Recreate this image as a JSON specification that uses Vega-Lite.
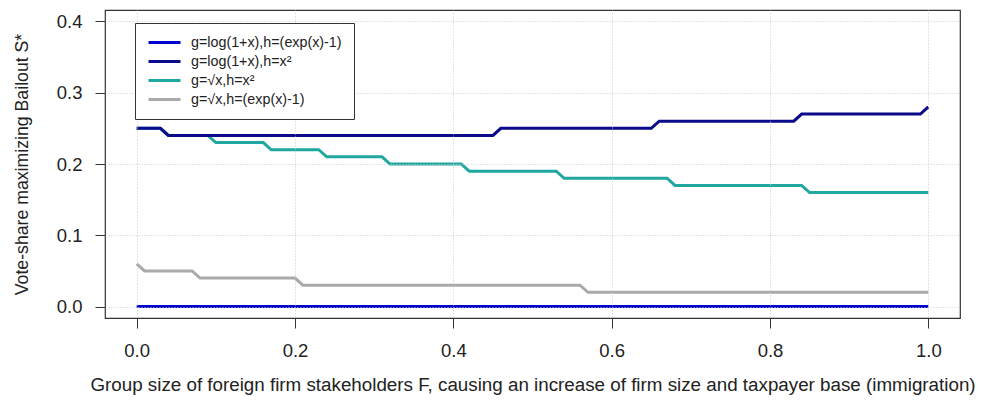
{
  "$schema": "https://vega.github.io/schema/vega-lite/v6.json",
  "width": 855,
  "height": 308,
  "autosize": {"type": "none"},
  "padding": {"left": 105, "top": 10, "right": 21, "bottom": 90},
  "background": "white",
  "config": {
    "view": {"stroke": "#333333", "strokeWidth": 1.2},
    "font": "Liberation Sans"
  },
  "data": {
    "values": [
      {"s": "g=√x,h=(exp(x)-1)", "x": 0.0, "y": 0.06},
      {"s": "g=√x,h=(exp(x)-1)", "x": 0.01, "y": 0.05},
      {"s": "g=√x,h=(exp(x)-1)", "x": 0.07, "y": 0.05},
      {"s": "g=√x,h=(exp(x)-1)", "x": 0.08, "y": 0.04},
      {"s": "g=√x,h=(exp(x)-1)", "x": 0.20, "y": 0.04},
      {"s": "g=√x,h=(exp(x)-1)", "x": 0.21, "y": 0.03},
      {"s": "g=√x,h=(exp(x)-1)", "x": 0.56, "y": 0.03},
      {"s": "g=√x,h=(exp(x)-1)", "x": 0.57, "y": 0.02},
      {"s": "g=√x,h=(exp(x)-1)", "x": 1.0, "y": 0.02},
      {"s": "g=√x,h=x²", "x": 0.0, "y": 0.25},
      {"s": "g=√x,h=x²", "x": 0.03, "y": 0.25},
      {"s": "g=√x,h=x²", "x": 0.04, "y": 0.24},
      {"s": "g=√x,h=x²", "x": 0.09, "y": 0.24},
      {"s": "g=√x,h=x²", "x": 0.10, "y": 0.23},
      {"s": "g=√x,h=x²", "x": 0.16, "y": 0.23},
      {"s": "g=√x,h=x²", "x": 0.17, "y": 0.22},
      {"s": "g=√x,h=x²", "x": 0.23, "y": 0.22},
      {"s": "g=√x,h=x²", "x": 0.24, "y": 0.21},
      {"s": "g=√x,h=x²", "x": 0.31, "y": 0.21},
      {"s": "g=√x,h=x²", "x": 0.32, "y": 0.20},
      {"s": "g=√x,h=x²", "x": 0.41, "y": 0.20},
      {"s": "g=√x,h=x²", "x": 0.42, "y": 0.19},
      {"s": "g=√x,h=x²", "x": 0.53, "y": 0.19},
      {"s": "g=√x,h=x²", "x": 0.54, "y": 0.18},
      {"s": "g=√x,h=x²", "x": 0.67, "y": 0.18},
      {"s": "g=√x,h=x²", "x": 0.68, "y": 0.17},
      {"s": "g=√x,h=x²", "x": 0.84, "y": 0.17},
      {"s": "g=√x,h=x²", "x": 0.85, "y": 0.16},
      {"s": "g=√x,h=x²", "x": 1.0, "y": 0.16},
      {"s": "g=log(1+x),h=x²", "x": 0.0, "y": 0.25},
      {"s": "g=log(1+x),h=x²", "x": 0.03, "y": 0.25},
      {"s": "g=log(1+x),h=x²", "x": 0.04, "y": 0.24},
      {"s": "g=log(1+x),h=x²", "x": 0.45, "y": 0.24},
      {"s": "g=log(1+x),h=x²", "x": 0.46, "y": 0.25},
      {"s": "g=log(1+x),h=x²", "x": 0.65, "y": 0.25},
      {"s": "g=log(1+x),h=x²", "x": 0.66, "y": 0.26},
      {"s": "g=log(1+x),h=x²", "x": 0.83, "y": 0.26},
      {"s": "g=log(1+x),h=x²", "x": 0.84, "y": 0.27},
      {"s": "g=log(1+x),h=x²", "x": 0.99, "y": 0.27},
      {"s": "g=log(1+x),h=x²", "x": 1.0, "y": 0.28},
      {"s": "g=log(1+x),h=(exp(x)-1)", "x": 0.0, "y": 0.0},
      {"s": "g=log(1+x),h=(exp(x)-1)", "x": 1.0, "y": 0.0}
    ]
  },
  "mark": {"type": "line", "strokeWidth": 3, "interpolate": "linear"},
  "encoding": {
    "x": {
      "field": "x",
      "type": "quantitative",
      "scale": {"domain": [-0.04, 1.04], "nice": false, "zero": false},
      "axis": {
        "title": "Group size of foreign firm stakeholders F, causing an increase of firm size and taxpayer base (immigration)",
        "values": [0, 0.2, 0.4, 0.6, 0.8, 1.0],
        "format": ".1f",
        "domain": false,
        "tickSize": 10,
        "tickColor": "#333333",
        "labelFontSize": 18.5,
        "labelColor": "#222222",
        "labelPadding": 13,
        "labelFlush": false,
        "titleFontSize": 18.8,
        "titleFontWeight": "normal",
        "titleColor": "#222222",
        "titlePadding": 16,
        "grid": true,
        "gridColor": "#c8c8c8",
        "gridDash": [1, 2],
        "zindex": 1
      }
    },
    "y": {
      "field": "y",
      "type": "quantitative",
      "scale": {"domain": [-0.016, 0.416], "nice": false, "zero": false},
      "axis": {
        "title": "Vote-share maximizing Bailout S*",
        "values": [0, 0.1, 0.2, 0.3, 0.4],
        "format": ".1f",
        "domain": false,
        "tickSize": 10,
        "tickColor": "#333333",
        "labelAngle": 0,
        "labelFontSize": 18.5,
        "labelColor": "#222222",
        "labelPadding": 13,
        "labelFlush": false,
        "titleFontSize": 17.7,
        "titleFontWeight": "normal",
        "titleColor": "#222222",
        "titlePadding": 25,
        "grid": true,
        "gridColor": "#c8c8c8",
        "gridDash": [1, 2],
        "zindex": 1
      }
    },
    "color": {
      "field": "s",
      "type": "nominal",
      "scale": {
        "domain": ["g=log(1+x),h=(exp(x)-1)", "g=log(1+x),h=x²", "g=√x,h=x²", "g=√x,h=(exp(x)-1)"],
        "range": ["#0000CD", "#0A0A8A", "#20A8A0", "#AAAAAA"]
      },
      "legend": {
        "title": null,
        "orient": "none",
        "legendX": 30,
        "legendY": 13,
        "fillColor": "white",
        "strokeColor": "#333333",
        "padding": 12,
        "symbolType": "stroke",
        "symbolSize": 1024,
        "symbolStrokeWidth": 3,
        "clipHeight": 15,
        "labelFontSize": 14.3,
        "labelColor": "#222222",
        "labelOffset": 9,
        "rowPadding": 4,
        "zindex": 2
      }
    }
  }
}
